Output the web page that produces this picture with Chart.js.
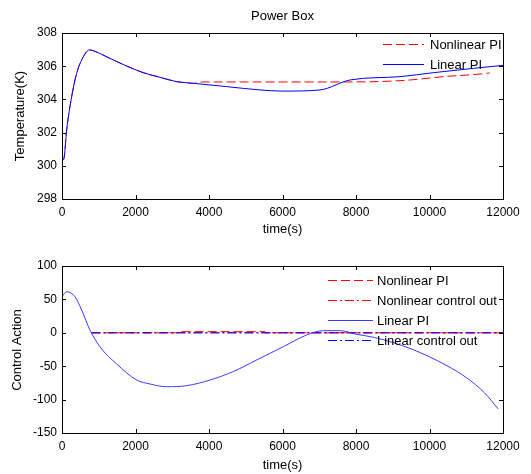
<!DOCTYPE html>
<html>
<head>
<meta charset="utf-8">
<script src="https://cdn.jsdelivr.net/npm/chart.js@4.4.0/dist/chart.umd.min.js"></script>
<style>
  body { margin: 0; background: #fff; }
  canvas { position: absolute; left: 0; }
  #tempChart { top: 0; }
  #ctrlChart { top: 240px; }
</style>
</head>
<body>
<canvas id="tempChart" width="531" height="240"></canvas>
<canvas id="ctrlChart" width="531" height="234"></canvas>
<script>
// top plot: temperature
const tempTime = [0, 54, 127, 263, 399, 580, 744, 853, 1306, 1760, 2212, 2667, 3120, 3573, 4480, 5388, 6000, 7020, 7837, 9197, 10104, 11192, 12000];
const linearTemp = [300.3, 300.45, 302.16, 304.16, 305.57, 306.57, 306.98, 306.93, 306.47, 306.01, 305.61, 305.33, 305.07, 304.97, 304.77, 304.57, 304.5, 304.57, 305.17, 305.37, 305.61, 305.87, 306.05];
const nlTempTime = [0, 54, 127, 263, 399, 580, 744, 853, 1306, 1760, 2212, 2667, 3120, 3573, 3845, 7650, 8700, 9469, 10376, 11556, 11640];
const nonlinearTemp = [300.3, 300.45, 302.16, 304.16, 305.57, 306.57, 306.98, 306.93, 306.47, 306.01, 305.61, 305.33, 305.07, 304.97, 305.05, 305.05, 305.08, 305.17, 305.37, 305.57, 305.6];

// bottom plot: control action
const ctrlTime = [0, 127, 354, 536, 762, 1034, 1488, 2032, 2395, 2848, 3392, 4027, 4662, 5297, 6022, 6656, 7110, 7564, 8000, 8500, 9000, 9500, 10000, 10500, 11000, 11500, 11870];
const linearPI = [54, 61.5, 54, 34, 4, -21, -46.7, -70.7, -76.6, -80.7, -79.2, -70.7, -58, -40.7, -20.8, -3.3, 3.2, 3.2, -2, -7, -14.5, -24, -36, -50, -67, -90, -114];
const nlPITime = [800, 3150, 3160, 5520, 5530, 12000];
const nonlinearPI = [0, 0, 1.7, 1.7, 0, 0];
const outTime = [800, 12000];
const nonlinearOut = [0, 0];
const linearOut = [0, 0];

const xTicks = [0, 2000, 4000, 6000, 8000, 10000, 12000];
const tempTicks = [298, 300, 302, 304, 306, 308];
const ctrlTicks = [-150, -100, -50, 0, 50, 100];

const FONT = "Liberation Sans, Arial, sans-serif";
const DASH = [9, 4];
const DASHDOT = [9, 3, 2, 3];

function pts(xs, ys) {
  return xs.map((x, i) => ({ x: x, y: ys[i] }));
}

// short horizontal sample drawn as 1px rects following a dash pattern
function dashSample(ctx, x0, x1, y, color, dash) {
  ctx.fillStyle = color;
  if (!dash || !dash.length) {
    ctx.fillRect(x0, y, x1 - x0, 1);
    return;
  }
  let x = x0, i = 0;
  while (x < x1) {
    const len = dash[i % dash.length];
    if (i % 2 === 0) ctx.fillRect(x, y, Math.min(len, x1 - x), 1);
    x += len;
    i++;
  }
}

// MATLAB style box, inward ticks, titles and in-axes legend
const matlabAxes = {
  id: "matlabAxes",
  afterDraw(chart, args, opts) {
    const ctx = chart.ctx;
    const a = chart.chartArea;
    const xs = chart.scales.x;
    const ys = chart.scales.y;
    ctx.save();
    ctx.strokeStyle = "#000";
    ctx.lineWidth = 1;
    ctx.setLineDash([]);
    ctx.strokeRect(Math.round(a.left) + 0.5, Math.round(a.top) + 0.5,
      Math.round(a.right - a.left), Math.round(a.bottom - a.top));
    ctx.beginPath();
    xs.ticks.forEach((t) => {
      const px = Math.round(xs.getPixelForValue(t.value)) + 0.5;
      ctx.moveTo(px, a.bottom); ctx.lineTo(px, a.bottom - 4);
      ctx.moveTo(px, a.top); ctx.lineTo(px, a.top + 4);
    });
    ys.ticks.forEach((t) => {
      const py = Math.round(ys.getPixelForValue(t.value)) + 0.5;
      ctx.moveTo(a.left, py); ctx.lineTo(a.left + 4, py);
      ctx.moveTo(a.right, py); ctx.lineTo(a.right - 4, py);
    });
    ctx.stroke();
    ctx.restore();

    ctx.save();
    ctx.fillStyle = "#000";
    ctx.font = "13px " + FONT;
    ctx.textAlign = "center";
    ctx.textBaseline = "middle";
    if (opts.title) ctx.fillText(opts.title, (a.left + a.right) / 2, opts.titleY);
    ctx.fillText(opts.xLabel, (a.left + a.right) / 2, opts.xLabelY);
    ctx.translate(opts.yLabelX, opts.yLabelY);
    ctx.rotate(-Math.PI / 2);
    ctx.fillText(opts.yLabel, 0, 0);
    ctx.restore();

    // legend, styled from each dataset
    const order = opts.legendOrder;
    for (let row = 0; row < order.length; row++) {
      const ds = chart.data.datasets[order[row]];
      const y = opts.legendY + row * opts.legendStep;
      ctx.save();
      dashSample(ctx, opts.lineX0, opts.lineX1, y, ds.borderColor, ds.borderDash);
      ctx.font = "13px " + FONT;
      ctx.textAlign = "left";
      ctx.textBaseline = "middle";
      ctx.fillStyle = "#000";
      ctx.fillText(ds.label, opts.textX, y + 1);
      ctx.restore();
    }
  }
};

function axisOpts(min, max, ticks) {
  return {
    x: {
      type: "linear", min: 0, max: 12000,
      afterBuildTicks: (s) => { s.ticks = xTicks.map((v) => ({ value: v })); },
      afterFit: (s) => { s.height = 41; },
      grid: { display: false, drawTicks: false },
      border: { display: false },
      ticks: { padding: 6, color: "#000", font: { family: FONT, size: 12 }, maxRotation: 0, autoSkip: false, callback: (v) => String(v) }
    },
    y: {
      type: "linear", min: min, max: max,
      afterBuildTicks: (s) => { s.ticks = ticks.map((v) => ({ value: v })); },
      afterFit: (s) => { s.width = 62; },
      grid: { display: false, drawTicks: false },
      border: { display: false },
      ticks: { padding: 5, color: "#000", font: { family: FONT, size: 12 }, autoSkip: false, callback: (v) => String(v) }
    }
  };
}

function lineSet(label, data, color, dash, order, smooth) {
  return {
    label: label, data: data, borderColor: color, backgroundColor: color,
    borderWidth: 1, borderDash: dash, pointRadius: 0, fill: false, order: order,
    cubicInterpolationMode: smooth ? "monotone" : "default", tension: smooth ? 0.4 : 0
  };
}

new Chart(document.getElementById("tempChart").getContext("2d"), {
  type: "line",
  data: {
    datasets: [
      lineSet("Nonlinear PI", pts(nlTempTime, nonlinearTemp), "#ff0000", DASH, 2, true),
      lineSet("Linear PI", pts(tempTime, linearTemp), "#0000ff", [], 1, true)
    ]
  },
  options: {
    responsive: false, animation: false, devicePixelRatio: 1,
    layout: { padding: { top: 33, right: 28, left: 0, bottom: 0 } },
    scales: axisOpts(298, 308, tempTicks),
    plugins: {
      legend: { display: false }, tooltip: { enabled: false },
      matlabAxes: {
        title: "Power Box", titleY: 16, xLabel: "time(s)", xLabelY: 229,
        yLabel: "Temperature(K)", yLabelX: 20, yLabelY: 116,
        legendOrder: [0, 1], legendY: 44, legendStep: 20,
        lineX0: 383, lineX1: 424, textX: 430
      }
    }
  },
  plugins: [matlabAxes]
});

new Chart(document.getElementById("ctrlChart").getContext("2d"), {
  type: "line",
  data: {
    datasets: [
      lineSet("Nonlinear PI", pts(nlPITime, nonlinearPI), "#ff0000", DASH, 3, false),
      lineSet("Nonlinear control out", pts(outTime, nonlinearOut), "#ff0000", DASHDOT, 4, false),
      lineSet("Linear PI", pts(ctrlTime, linearPI), "#3b3bff", [], 1, true),
      lineSet("Linear control out", pts(outTime, linearOut), "#0000ff", DASHDOT, 2, false)
    ]
  },
  options: {
    responsive: false, animation: false, devicePixelRatio: 1,
    layout: { padding: { top: 26, right: 28, left: 0, bottom: 0 } },
    scales: axisOpts(-150, 100, ctrlTicks),
    plugins: {
      legend: { display: false }, tooltip: { enabled: false },
      matlabAxes: {
        title: "", xLabel: "time(s)", xLabelY: 225,
        yLabel: "Control Action", yLabelX: 17, yLabelY: 110,
        legendOrder: [0, 1, 2, 3], legendY: 40, legendStep: 20,
        lineX0: 328, lineX1: 373, textX: 377
      }
    }
  },
  plugins: [matlabAxes]
});
</script>
</body>
</html>
